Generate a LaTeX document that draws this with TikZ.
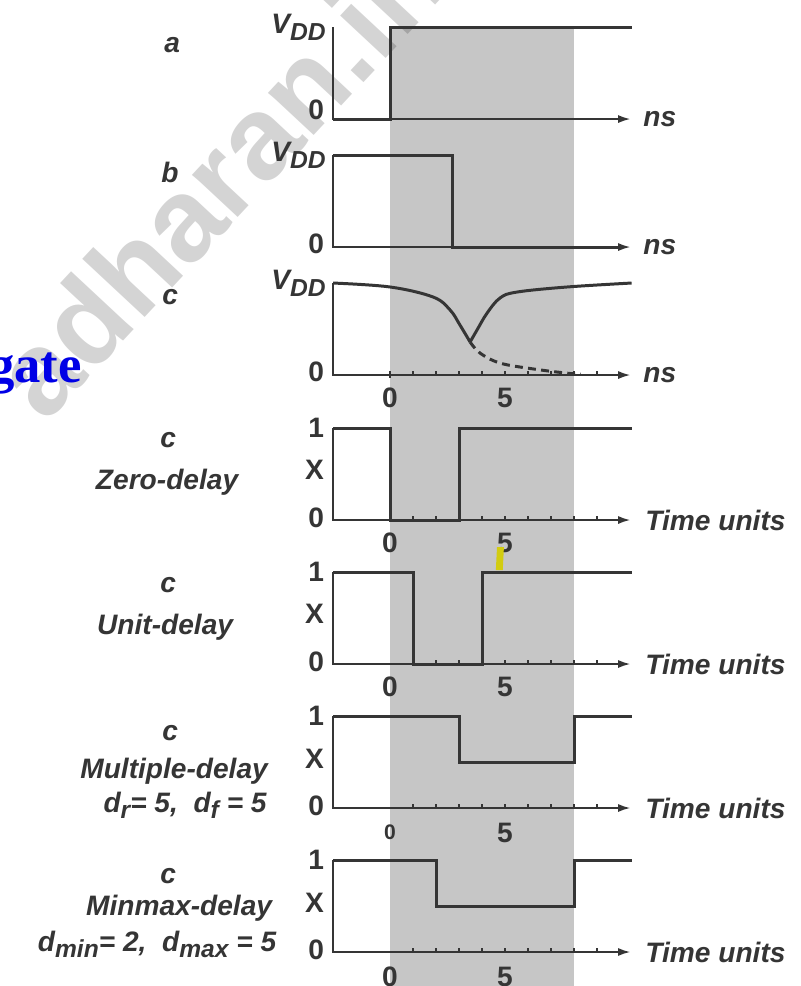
\documentclass[tikz,border=0pt]{standalone}
\usepackage{fontspec}
\setmainfont{Liberation Sans}
\newfontfamily\titlefont{Liberation Serif}
\usetikzlibrary{arrows.meta}

\definecolor{ink}{HTML}{353535}
\definecolor{band}{HTML}{C6C6C6}
\definecolor{titleblue}{HTML}{0000E6}
\definecolor{marker}{HTML}{D2CC10}

\newcommand{\lowsub}[1]{\raisebox{-0.45ex}{\fontsize{14}{14}\selectfont #1}}

\begin{document}
\begin{tikzpicture}[
  x=0.46cm, y=1.84cm,
  line join=miter,
  axis/.style={ink, line width=1.1pt, -{Latex[length=7pt,width=4.6pt]}},
  sig/.style={ink, line width=1.7pt},
  tick/.style={ink, line width=0.8pt},
  lbl/.style={text=ink, inner sep=0pt, font=\fontsize{16}{18}\selectfont\bfseries\itshape},
  num/.style={text=ink, inner sep=0pt, font=\fontsize{16}{18}\selectfont\bfseries},
  wmark/.style={text=black, opacity=0.17, inner sep=0pt, rotate=47, font=\fontsize{67}{67}\selectfont\bfseries}
]
  % page: 800 x 986 px at 0.02cm a px
  \fill[white] (-16.96,1.294) rectangle (17.83,-9.424);
  \useasboundingbox (-16.96,1.294) rectangle (17.83,-9.424);

  % shaded window t = 0 .. 8
  \fill[band] (0,1) rectangle (8,-9.424);

  % watermark
  \begin{scope}
    \clip (-16.96,1.294) rectangle (17.83,-9.424);
    \node[wmark, anchor=base east] (wmleft) at (-0.64cm,0.6cm) {adharan};
    \node[wmark, anchor=base west] (wmright) at (-0.64cm,0.6cm) {.in};
  \end{scope}

  % cut-off title
  \node[text=titleblue, inner sep=0pt, anchor=base east, font=\titlefont\bfseries\fontsize{30}{30}\selectfont] (gate) at (-6.16cm,-5.26cm) {gate};

  % a
  \begin{scope}
    \draw[axis] (-2.48,1) -- (-2.48,0) -- (10.45,0);
    \draw[sig] (-2.48,0) -- (0,0) -- (0,1) -- (10.5,1);
    \node[lbl] (namea) at (-4.36cm,1.48cm) {a};
    \node[lbl, anchor=east, xshift=-4pt] (vdda) at (-2.48,1) {V\lowsub{DD}};
    \node[num, anchor=east, xshift=-5pt, yshift=5pt] (zeroa) at (-2.48,0) {0};
    \node[lbl, anchor=west] (nsa) at (11,0) {ns};
  \end{scope}

  % b
  \begin{scope}[yshift=-2.56cm]
    \draw[axis] (-2.48,1) -- (-2.48,0) -- (10.45,0);
    \draw[sig] (-2.48,1) -- (2.7,1) -- (2.7,0) -- (10,0);
    \node[lbl] (nameb) at (-4.4cm,1.5cm) {b};
    \node[lbl, anchor=east, xshift=-4pt] (vddb) at (-2.48,1) {V\lowsub{DD}};
    \node[num, anchor=east, xshift=-5pt, yshift=2pt] (zerob) at (-2.48,0) {0};
    \node[lbl, anchor=west] (nsb) at (11,0) {ns};
  \end{scope}

  % c, analog
  \begin{scope}[yshift=-5.12cm]
    \draw[axis] (-2.48,1) -- (-2.48,0) -- (10.45,0);
    \foreach \t in {1,...,9} \draw[tick] (\t,0) -- (\t,0.045);
    \draw[tick] (0,-0.03) -- (0,0.045);
    \draw[sig] plot[smooth, tension=0.6] coordinates {(-2.48,1) (0,0.957) (1.87,0.848) (2.61,0.707) (3.04,0.543) (3.48,0.359)};
    \draw[sig] plot[smooth, tension=0.6] coordinates {(3.48,0.359) (3.78,0.489) (4.22,0.674) (4.78,0.837) (5.52,0.902) (7.7,0.957) (10.5,1)};
    \draw[sig, dash pattern=on 4.5pt off 3pt] plot[smooth, tension=0.6] coordinates {(3.48,0.359) (3.91,0.239) (4.78,0.13) (6.2,0.067) (7.7,0.02) (8.3,0.01)};
    \node[lbl] (namec) at (-4.4cm,1.56cm) {c};
    \node[lbl, anchor=east, xshift=-4pt] (vddc) at (-2.48,1) {V\lowsub{DD}};
    \node[num, anchor=east, xshift=-5pt, yshift=2pt] (zeroc) at (-2.48,0) {0};
    \node[lbl, anchor=west] (nsc) at (11,0) {ns};
    \node[num, yshift=-13pt] (tzeroc) at (0,0) {0};
    \node[num, yshift=-13pt] (tfivec) at (5,0) {5};
  \end{scope}

  % c, zero-delay
  \begin{scope}[yshift=-8.02cm]
    \draw[axis] (-2.48,1) -- (-2.48,0) -- (10.45,0);
    \foreach \t in {1,...,9} \draw[tick] (\t,0) -- (\t,0.045);
    \draw[sig] (-2.48,1) -- (0,1) -- (0,0) -- (3,0) -- (3,1) -- (10.5,1);
    \node[lbl] (namez) at (-4.44cm,1.6cm) {c};
    \node[lbl] (modez) at (-4.46cm,0.76cm) {Zero-delay};
    \node[num, anchor=east, xshift=-5pt] (onez) at (-2.48,1) {1};
    \node[num, anchor=east, xshift=-5pt] (xz) at (-2.48,0.55) {X};
    \node[num, anchor=east, xshift=-5pt, yshift=1.5pt] (zeroz) at (-2.48,0) {0};
    \node[lbl, anchor=west] (unitz) at (11.09,0) {Time units};
    \node[num, yshift=-13pt] (tzeroz) at (0,0) {0};
    \node[num, yshift=-13pt] (tfivez) at (5,0) {5};
  \end{scope}

  % c, unit-delay
  \begin{scope}[yshift=-10.9cm]
    \fill[marker] (4.6,1.02) -- (4.9,1.02) -- (4.95,1.27) -- (4.65,1.27) -- cycle;
    \draw[axis] (-2.48,1) -- (-2.48,0) -- (10.45,0);
    \foreach \t in {1,...,9} \draw[tick] (\t,0) -- (\t,0.045);
    \draw[sig] (-2.48,1) -- (1,1) -- (1,0) -- (4,0) -- (4,1) -- (10.5,1);
    \node[lbl] (nameu) at (-4.44cm,1.58cm) {c};
    \node[lbl] (modeu) at (-4.5cm,0.74cm) {Unit-delay};
    \node[num, anchor=east, xshift=-5pt] (oneu) at (-2.48,1) {1};
    \node[num, anchor=east, xshift=-5pt] (xu) at (-2.48,0.55) {X};
    \node[num, anchor=east, xshift=-5pt, yshift=1.5pt] (zerou) at (-2.48,0) {0};
    \node[lbl, anchor=west] (unitu) at (11.09,0) {Time units};
    \node[num, yshift=-13pt] (tzerou) at (0,0) {0};
    \node[num, yshift=-13pt] (tfiveu) at (5,0) {5};
  \end{scope}

  % c, multiple-delay
  \begin{scope}[yshift=-13.78cm]
    \draw[axis] (-2.48,1) -- (-2.48,0) -- (10.45,0);
    \foreach \t in {1,...,9} \draw[tick] (\t,0) -- (\t,0.045);
    \draw[sig] (-2.48,1) -- (3,1) -- (3,0.5) -- (8,0.5) -- (8,1) -- (10.5,1);
    \node[lbl] (namem) at (-4.4cm,1.5cm) {c};
    \node[lbl] (modem) at (-4.32cm,0.74cm) {Multiple-delay};
    \node[lbl, anchor=base] (delm) at (-4.1cm,-0.08cm) {d\lowsub{r}= 5,\; d\lowsub{f} = 5};
    \node[num, anchor=east, xshift=-5pt] (onem) at (-2.48,1) {1};
    \node[num, anchor=east, xshift=-5pt] (xm) at (-2.48,0.53) {X};
    \node[num, anchor=east, xshift=-5pt, yshift=1.5pt] (zerom) at (-2.48,0) {0};
    \node[lbl, anchor=west] (unitm) at (11.09,0) {Time units};
    \node[num, yshift=-14pt, font=\fontsize{12}{12}\selectfont\bfseries] (tzerom) at (0,0) {0};
    \node[num, yshift=-14pt] (tfivem) at (5,0) {5};
  \end{scope}

  % c, minmax-delay
  \begin{scope}[yshift=-16.66cm]
    \draw[axis] (-2.48,1) -- (-2.48,0) -- (10.45,0);
    \foreach \t in {1,...,9} \draw[tick] (\t,0) -- (\t,0.045);
    \draw[sig] (-2.48,1) -- (2,1) -- (2,0.5) -- (8,0.5) -- (8,1) -- (10.5,1);
    \node[lbl] (namex) at (-4.44cm,1.52cm) {c};
    \node[lbl] (modex) at (-4.22cm,0.88cm) {Minmax-delay};
    \node[lbl, anchor=base] (delx) at (-4.66cm,0.02cm) {d\lowsub{min}= 2,\; d\lowsub{max} = 5};
    \node[num, anchor=east, xshift=-5pt] (onex) at (-2.48,1) {1};
    \node[num, anchor=east, xshift=-5pt] (xx) at (-2.48,0.53) {X};
    \node[num, anchor=east, xshift=-5pt, yshift=1.5pt] (zerox) at (-2.48,0) {0};
    \node[lbl, anchor=west] (unitx) at (11.09,0) {Time units};
    \node[num, yshift=-14pt] (tzerox) at (0,0) {0};
    \node[num, yshift=-14pt] (tfivex) at (5,0) {5};
  \end{scope}
\end{tikzpicture}
\end{document}
